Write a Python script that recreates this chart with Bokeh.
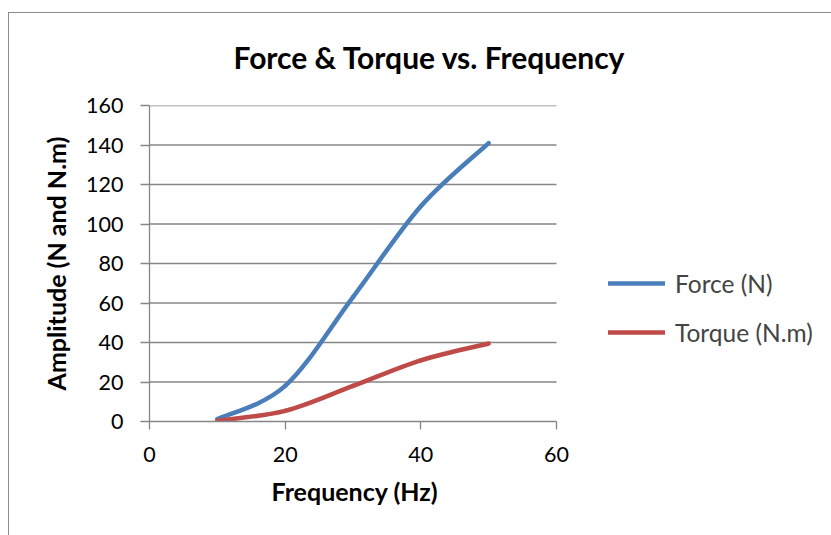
from bokeh.plotting import figure
from bokeh.models import Range1d, Legend, LegendItem, ColumnDataSource, Title, FixedTicker
from bokeh.embed import file_html
from bokeh.resources import INLINE

frequency = [10, 20, 30, 40, 50]
force = [1.2, 18, 63, 109, 141]
torque = [0.4, 5.4, 18, 31, 39.5]
x_ticks = [0, 20, 40, 60]
y_ticks = [0, 20, 40, 60, 80, 100, 120, 140, 160]

BLUE = "#4A7EBB"
RED = "#BE4B48"
GRID = "#868686"
FONT = "Lato"

# plot frame in pixels: x 0..60 spans 149..556, frame continues to canvas edge (legend space)
FRAME_LEFT, AXIS_RIGHT, CANVAS_W = 149, 556, 831
x_end = x_ticks[-1] * (CANVAS_W - FRAME_LEFT) / (AXIS_RIGHT - FRAME_LEFT)


def smooth_segments(xs, ys):
    """Catmull-Rom style bezier segments (Excel 'smoothed line' rendering)."""
    n = len(xs)
    d = dict(x0=[], y0=[], x1=[], y1=[], cx0=[], cy0=[], cx1=[], cy1=[])
    for i in range(n - 1):
        im1 = max(i - 1, 0)
        ip2 = min(i + 2, n - 1)
        d["x0"].append(xs[i]); d["y0"].append(ys[i])
        d["x1"].append(xs[i + 1]); d["y1"].append(ys[i + 1])
        d["cx0"].append(xs[i] + (xs[i + 1] - xs[im1]) / 6)
        d["cy0"].append(ys[i] + (ys[i + 1] - ys[im1]) / 6)
        d["cx1"].append(xs[i + 1] - (xs[ip2] - xs[i]) / 6)
        d["cy1"].append(ys[i + 1] - (ys[ip2] - ys[i]) / 6)
    return ColumnDataSource(d)


p = figure(width=CANVAS_W, height=535, output_backend="svg", toolbar_location=None,
           x_range=Range1d(0, x_end), y_range=Range1d(y_ticks[0], y_ticks[-1]),
           min_border_left=FRAME_LEFT, min_border_right=0, min_border_top=105, min_border_bottom=114,
           styles={
               "background-color": "white",
               "background-image": "linear-gradient(#8c8c8c,#8c8c8c), linear-gradient(#8c8c8c,#8c8c8c)",
               "background-size": "1px calc(100% - 12px), calc(100% - 8px) 1px",
               "background-position": "8px 12px, 8px 12px",
               "background-repeat": "no-repeat",
           })
p.title = Title(text="Force & Torque vs. Frequency", align="left", offset=84, standoff=62,
                text_font=FONT, text_font_style="bold", text_font_size="30px",
                text_color="black")
p.background_fill_color = "white"
p.border_fill_alpha = 0
p.outline_line_color = None

p.xgrid.grid_line_color = None
p.ygrid.grid_line_color = None
# horizontal gridlines only across the 0..60 axis span
p.segment(x0=x_ticks[0], x1=x_ticks[-1], y0=y_ticks[1:], y1=y_ticks[1:],
          line_color=GRID, line_width=1.3)

for ax in (p.xaxis[0], p.yaxis[0]):
    ax.axis_line_color = GRID
    ax.axis_line_width = 1.3
    ax.major_tick_line_color = GRID
    ax.major_tick_line_width = 1.3
    ax.minor_tick_line_color = None
    ax.major_tick_in = 0
    ax.major_label_text_font = FONT
    ax.major_label_text_font_size = "21.5px"
    ax.major_label_text_color = "black"
    ax.axis_label_text_font = FONT
    ax.axis_label_text_font_style = "bold"
    ax.axis_label_text_font_size = "25px"
    ax.axis_label_text_color = "black"

p.xaxis[0].ticker = FixedTicker(ticks=x_ticks)
p.xaxis[0].bounds = (x_ticks[0], x_ticks[-1])
p.xaxis[0].major_tick_out = 8
p.xaxis[0].major_label_standoff = 17

p.yaxis[0].ticker = FixedTicker(ticks=y_ticks)
p.yaxis[0].major_tick_out = 9
p.yaxis[0].major_label_standoff = 17
p.yaxis[0].axis_label = "Amplitude (N and N.m)"
p.yaxis[0].axis_label_standoff = 12

# x-axis title, centred under the 0..60 axis span
p.add_layout(Title(text="Frequency (Hz)", align="left", offset=122, standoff=19,
                   text_font=FONT, text_font_style="bold", text_font_size="25px",
                   text_color="black"), "below")

src_f = smooth_segments(frequency, force)
src_t = smooth_segments(frequency, torque)
rf = p.bezier("x0", "y0", "x1", "y1", "cx0", "cy0", "cx1", "cy1", source=src_f,
              line_color=BLUE, line_width=4.5, line_cap="round")
rt = p.bezier("x0", "y0", "x1", "y1", "cx0", "cy0", "cx1", "cy1", source=src_t,
              line_color=RED, line_width=4.5, line_cap="round")

legend = Legend(items=[LegendItem(label="Force (N)", renderers=[rf]),
                       LegendItem(label="Torque (N.m)", renderers=[rt])],
                location=(459, 74), orientation="vertical",
                padding=0, margin=0, spacing=19, glyph_width=57, glyph_height=30,
                label_height=30, label_standoff=10,
                label_text_font=FONT, label_text_font_size="24.5px",
                border_line_alpha=0, background_fill_alpha=0)
p.add_layout(legend, "center")

open("out.html", "w").write(file_html(p, INLINE))
